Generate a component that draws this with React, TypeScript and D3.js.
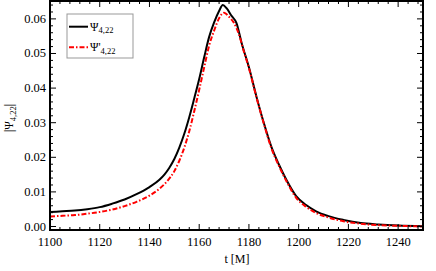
import React from "react";
import * as d3 from "d3";

const tBlack = [1100, 1105, 1110, 1115, 1120, 1125, 1130, 1135, 1140, 1144, 1146, 1148, 1150, 1152, 1154, 1156, 1158, 1160, 1162, 1164, 1166, 1168, 1169.5, 1171, 1173, 1175, 1177, 1180, 1183, 1186, 1189, 1192, 1195, 1199, 1203, 1207, 1212, 1218, 1225, 1232, 1240, 1250];
const psiBlack = [0.0042, 0.0044, 0.0046, 0.005, 0.0056, 0.0066, 0.0078, 0.0094, 0.0114, 0.0135, 0.0150, 0.0170, 0.0195, 0.0228, 0.0268, 0.0316, 0.0370, 0.0426, 0.0489, 0.0548, 0.0590, 0.0623, 0.064, 0.0631, 0.0609, 0.0588, 0.0532, 0.0460, 0.0376, 0.0299, 0.0231, 0.0180, 0.0136, 0.0088, 0.0062, 0.0044, 0.003, 0.0019, 0.001, 0.0006, 0.0003, 0.0001];

const tRed = [1100, 1105, 1110, 1115, 1120, 1125, 1130, 1135, 1140, 1144, 1147, 1150, 1152, 1154, 1156, 1158, 1160, 1162, 1164, 1166, 1168, 1170, 1172, 1174, 1176, 1178, 1180, 1183, 1186, 1189, 1192, 1195, 1199, 1203, 1207, 1212, 1218, 1225, 1232, 1240, 1250];
const psiRed = [0.0029, 0.0031, 0.0033, 0.0037, 0.0042, 0.0049, 0.0059, 0.0072, 0.0089, 0.0109, 0.0130, 0.0160, 0.0190, 0.0228, 0.0275, 0.0333, 0.0395, 0.0460, 0.0523, 0.0566, 0.0602, 0.0618, 0.0606, 0.0588, 0.0555, 0.0505, 0.0458, 0.0374, 0.0297, 0.0227, 0.0176, 0.0132, 0.0083, 0.0057, 0.0039, 0.0026, 0.0015, 0.0008, 0.0004, 0.0002, 0.0];

const xMajor = [1100, 1120, 1140, 1160, 1180, 1200, 1220, 1240];
const yMajor = [0, 0.01, 0.02, 0.03, 0.04, 0.05, 0.06];

const W = 436, H = 271;
const L = 50, R = 423, T = 1, B = 230;
const FONT = "Liberation Serif, DejaVu Serif, Times New Roman, serif";

export default function App() {
  const x = d3.scaleLinear().domain([1100, 1250]).range([L, R]);
  const y = d3.scaleLinear().domain([-0.00101, 0.06517]).range([B, T]);
  const line = (ts: number[], vs: number[]) =>
    d3.line<number>().x((_, i) => x(ts[i])).y((d) => y(d)).curve(d3.curveMonotoneX)(vs) || "";

  const xMinor = d3.range(1100, 1251, 4).filter((v) => !xMajor.includes(v));
  const yMinor = d3.range(0, 0.065, 0.002).filter((v) => !yMajor.some((m) => Math.abs(m - v) < 1e-9));
  const ts = { fontFamily: FONT } as React.CSSProperties;

  return (
    <svg width={W} height={H} style={{ position: "absolute", left: 0, top: 0 }}>
      <rect x={0} y={0} width={W} height={H} fill="white" />
      <defs>
        <clipPath id="clip">
          <rect x={L} y={T} width={R - L} height={B - T} />
        </clipPath>
      </defs>
      <g clipPath="url(#clip)">
        <path d={line(tBlack, psiBlack)} fill="none" stroke="black" strokeWidth={2} />
        <path d={line(tRed, psiRed)} fill="none" stroke="#ff0000" strokeWidth={2} strokeDasharray="5,2,1.5,2" />
      </g>
      <g stroke="black" strokeWidth={1}>
        {xMajor.map((v) => (
          <g key={"xM" + v}>
            <line x1={x(v)} x2={x(v)} y1={B} y2={B - 6} />
            <line x1={x(v)} x2={x(v)} y1={T} y2={T + 6} />
          </g>
        ))}
        {xMinor.map((v) => (
          <g key={"xm" + v}>
            <line x1={x(v)} x2={x(v)} y1={B} y2={B - 3} />
            <line x1={x(v)} x2={x(v)} y1={T} y2={T + 3} />
          </g>
        ))}
        {yMajor.map((v) => (
          <g key={"yM" + v}>
            <line x1={L} x2={L + 6} y1={y(v)} y2={y(v)} />
            <line x1={R} x2={R - 6} y1={y(v)} y2={y(v)} />
          </g>
        ))}
        {yMinor.map((v) => (
          <g key={"ym" + v}>
            <line x1={L} x2={L + 3} y1={y(v)} y2={y(v)} />
            <line x1={R} x2={R - 3} y1={y(v)} y2={y(v)} />
          </g>
        ))}
      </g>
      <rect x={L} y={T} width={R - L} height={B - T} fill="none" stroke="black" strokeWidth={2} />
      <g fill="black">
        {xMajor.map((v) => (
          <text key={"xl" + v} x={x(v)} y={246} textAnchor="middle" fontSize={12.5} style={ts}>{v}</text>
        ))}
        {yMajor.map((v) => (
          <text key={"yl" + v} x={46} y={y(v) + 4} textAnchor="end" fontSize={12.5} style={ts}>{v.toFixed(2)}</text>
        ))}
      </g>
      <text x={237} y={263} textAnchor="middle" fontSize={12} style={ts}>t [M]</text>
      <text transform="translate(13,118) rotate(-90)" textAnchor="middle" fontSize={11.5} style={ts}>
        |Ψ<tspan fontSize={8.5} dy={3}>4,22</tspan><tspan dy={-3}>|</tspan>
      </text>
      <rect x={67} y={14} width={66} height={44} fill="white" stroke="#999" strokeWidth={1} />
      <line x1={69} x2={88} y1={26.7} y2={26.7} stroke="black" strokeWidth={2} />
      <line x1={69} x2={88} y1={47.3} y2={47.3} stroke="#ff0000" strokeWidth={2} strokeDasharray="5,2,1.5,2" />
      <text x={90} y={30.5} fontSize={11.5} style={ts}>Ψ<tspan fontSize={8.5} dy={2.5}>4,22</tspan></text>
      <text x={90} y={51} fontSize={11.5} style={ts}>Ψ'<tspan fontSize={8.5} dy={2.5}>4,22</tspan></text>
    </svg>
  );
}
